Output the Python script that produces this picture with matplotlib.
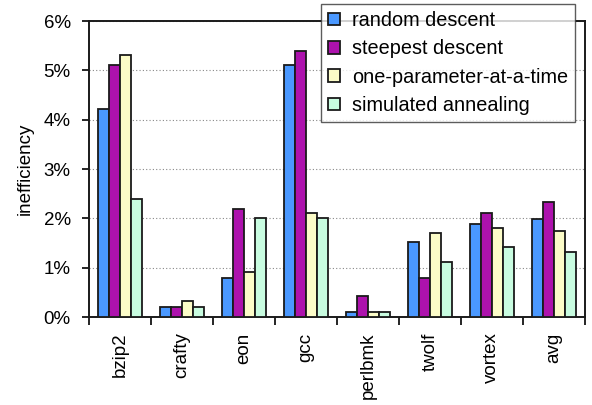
import numpy as np
import matplotlib
matplotlib.use("Agg")
import matplotlib.pyplot as plt
from matplotlib.ticker import FuncFormatter, FixedLocator

plt.rcParams["font.family"] = ["Liberation Sans", "DejaVu Sans"]

benchmarks = ["bzip2", "crafty", "eon", "gcc", "perlbmk", "twolf", "vortex", "avg"]
series_names = ["random descent", "steepest descent",
                "one-parameter-at-a-time", "simulated annealing"]
random_descent = [4.22, 0.2, 0.8, 5.1, 0.1, 1.52, 1.89, 1.99]
steepest_descent = [5.1, 0.2, 2.2, 5.4, 0.42, 0.8, 2.12, 2.33]
one_param = [5.31, 0.32, 0.92, 2.12, 0.1, 1.71, 1.8, 1.74]
sim_annealing = [2.4, 0.2, 2.0, 2.0, 0.1, 1.12, 1.42, 1.32]
colors = ["#4A98FF", "#AD12AD", "#FCFCC8", "#C8FCE0"]

fig = plt.figure(figsize=(5.92, 4.05), dpi=100)
ax = fig.add_axes([0.150, 0.217, 0.838, 0.731])

x = np.arange(len(benchmarks))
w = 0.177
all_series = [random_descent, steepest_descent, one_param, sim_annealing]
for i, vals in enumerate(all_series):
    ax.bar(x + (i - 1.5) * w, vals, width=w, color=colors[i],
           edgecolor="#1a1a1a", linewidth=1.3, label=series_names[i], zorder=3)

ax.set_xlim(-0.5, len(benchmarks) - 0.5)
ax.set_ylim(0, 6)
ax.set_yticks(range(7))
ax.yaxis.set_major_formatter(FuncFormatter(lambda v, p: "%d%%" % v))
ax.grid(axis="y", linestyle=(0, (1, 2)), color="#888888", linewidth=0.8, zorder=0)

ax.set_xticks(x)
ax.set_xticklabels(benchmarks, rotation=90)
ax.xaxis.set_minor_locator(FixedLocator(np.arange(-0.5, len(benchmarks), 1.0)))
ax.tick_params(axis="x", which="major", length=0, pad=11, labelsize=13.5)
ax.tick_params(axis="x", which="minor", length=6, width=1.2, direction="out")
ax.tick_params(axis="y", length=5, width=1.2, labelsize=13.5, pad=8)
ax.set_ylabel("inefficiency", fontsize=13.5, labelpad=7)

for s in ax.spines.values():
    s.set_linewidth(1.4)
    s.set_color("#1a1a1a")

leg = fig.legend(loc="upper left", bbox_to_anchor=(0.542, 0.990),
                 fontsize=14.3, frameon=True, fancybox=False, edgecolor="#333333",
                 handlelength=0.6, handleheight=0.6, handletextpad=0.6,
                 borderpad=0.35, labelspacing=0.47, borderaxespad=0)
leg.get_frame().set_linewidth(1.0)
leg.set_zorder(10)

fig.savefig("out.png", dpi=100)
